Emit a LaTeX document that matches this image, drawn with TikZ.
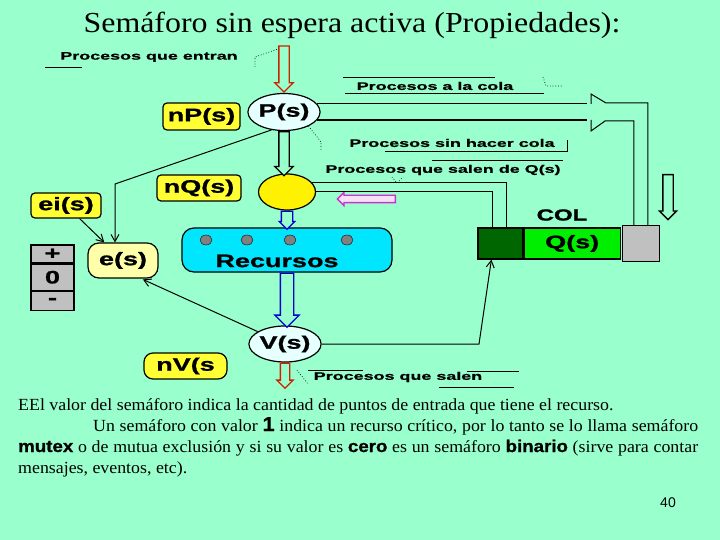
\documentclass[tikz,border=0pt]{standalone}
\usepackage{fontspec}
\setmainfont{Liberation Serif}
\newfontfamily\titlefont[FakeStretch=1.1]{Liberation Serif}
\newfontfamily\parfont[FakeStretch=1.05]{Liberation Serif}
\newfontfamily\parbold[FakeStretch=1.1,FakeBold=1]{Liberation Sans}
\newfontfamily\lblfont[FakeStretch=1.5,FakeBold=1.2]{Liberation Sans}
\newfontfamily\notefont[FakeStretch=1.63,FakeBold=0.8]{Liberation Sans}
\newfontfamily\numfont{Liberation Sans}
\usetikzlibrary{positioning,arrows.meta,shapes.geometric,shapes.arrows,calc}
\definecolor{slidebg}{HTML}{99FFCC}
\definecolor{tagyellow}{HTML}{FFFF33}
\definecolor{espale}{HTML}{FFFFAA}
\definecolor{circpale}{HTML}{E6FFFF}
\definecolor{reccyan}{HTML}{00E6FF}
\definecolor{coldark}{HTML}{006600}
\definecolor{colgreen}{HTML}{00EE00}
\definecolor{colgray}{HTML}{C0C0C0}
\definecolor{arrred}{HTML}{CC2200}
\definecolor{arrblue}{HTML}{0000CC}
\definecolor{arrmag}{HTML}{CC33CC}
\newcommand{\bigtxt}{\lblfont\bfseries\fontsize{18}{20}\selectfont}
\newcommand{\partxt}{\parfont\fontsize{17}{20}\selectfont}
\newcommand{\pb}[1]{{\parbold\bfseries #1}}
\tikzset{
  tag/.style={draw,line width=1.2pt,fill=tagyellow,rounded corners=4pt,font=\bigtxt,inner sep=0pt},
  circ/.style={ellipse,draw,line width=1.2pt,fill=circpale,inner sep=0pt,font=\bigtxt},
  cell/.style={draw,line width=1.2pt,fill=colgray,minimum width=43pt,inner sep=0pt,font=\bigtxt},
  colbox/.style={draw,line width=1.2pt,inner sep=0pt,minimum height=31pt},
  note/.style={font=\notefont\bfseries\fontsize{11}{13}\selectfont,inner sep=0pt},
  conn/.style={line width=1pt},
  thin/.style={line width=0.8pt},
  dots/.style={dotted,line width=0.7pt},
  arr/.style={conn,-{Straight Barb[length=7pt,width=8pt]}},
  hollow/.style n args={4}{single arrow,draw=#1,fill=#2,line width=1.3pt,inner sep=0pt,
    inner ysep=#3,single arrow head extend=#4,single arrow head indent=0pt},
}
\begin{document}
\begin{tikzpicture}[x=1pt,y=-1pt]
\fill[slidebg] (0,0) rectangle (720,540);
\useasboundingbox (0,0) rectangle (720,540);

\node[font=\titlefont\fontsize{29}{32}\selectfont] (title) at (352,25) {Semáforo sin espera activa (Propiedades):};

% semaforo
\node[circ,minimum width=60pt,minimum height=37pt] (Ps) at (284,112) {P(s)};
\node[circ,fill=yellow,minimum width=57pt,minimum height=36pt] (Qc) at (287,192) {};
\node[draw,line width=1.2pt,fill=reccyan,rounded corners=12pt,minimum width=210pt,minimum height=44pt] (rec) at (287,250) {};
\foreach \x in {206,247,290,347}
  \node[draw,fill=gray,ellipse,minimum width=12pt,minimum height=10pt,inner sep=0pt] (d\x) at (\x,240) {};
\node[font=\bigtxt] (rectxt) at (277,261) {Recursos};
\node[circ,minimum width=58pt,minimum height=36pt] (Vs) at (285,344) {V(s)};

\node[tag,minimum width=77pt,minimum height=27pt] (nP) at (201.5,116.5) {nP(s)};
\node[tag,minimum width=84pt,minimum height=26pt] (nQ) at (199,188) {nQ(s)};
\node[tag,minimum width=70pt,minimum height=25pt] (ei) at (66,205.5) {ei(s)};
\node[tag,minimum width=83pt,minimum height=26pt,rounded corners=9pt] (nV) at (185.5,366) {nV(s};
\node[tag,fill=espale,minimum width=70pt,minimum height=35pt,rounded corners=11pt] (es) at (123,260.5) {e(s)};

\node[cell,minimum height=18pt] (plus) at (52.5,254) {+};
\node[cell,minimum height=26pt,below=0pt of plus] (zero) {0};
\node[cell,minimum height=19pt,below=0pt of zero] (minus) {-};

% cola
\node[colbox,fill=coldark,minimum width=45pt] (dk) at (500.5,243.5) {};
\node[colbox,fill=colgreen,minimum width=96pt,right=0pt of dk,font=\bigtxt] (qs) {Q(s)};
\node[colbox,fill=colgray,minimum width=37pt,minimum height=36pt,right=1pt of qs] (gy) {};
\node[font=\lblfont\bfseries\fontsize{16}{18}\selectfont] (col) at (562,215) {COL};

% flechas huecas
\node[hollow={arrred}{slidebg}{4.5pt}{4pt},rotate=-90,minimum height=46pt,anchor=tip] (inarr) at (Ps.north) {};
\node[hollow={black}{slidebg}{4.5pt}{4pt},rotate=-90,minimum height=44pt,anchor=tail] (pqarr) at (Ps.south) {};
\node[hollow={arrblue}{slidebg}{5pt}{2pt},rotate=-90,minimum height=18pt,anchor=tail] (qrarr) at (Qc.south) {};
\node[hollow={arrblue}{slidebg}{6pt}{5.5pt},rotate=-90,minimum height=54pt,anchor=tail] (rvarr) at (rec.south) {};
\node[hollow={arrred}{slidebg}{4pt}{3.5pt},rotate=-90,minimum height=25pt,anchor=tail] (outarr) at (Vs.south) {};
\node[hollow={black}{slidebg}{4.5pt}{3.5pt},rotate=-90,minimum height=45pt,anchor=tail] (colarr) at (668,174) {};
\node[hollow={arrmag}{arrmag!15}{3pt}{3pt},rotate=180,minimum height=58pt,anchor=tail] (magarr) at (396,199) {};

% conexiones
\coordinate (mouth) at (587,112);
\coordinate (gyA) at ($(gy.north west)+(26,0)$);
\coordinate (gyB) at ($(gy.north west)+(12,0)$);
\draw[conn] (Ps.14) -- (Ps.14 -| mouth);
\draw[line width=1.6pt] (Ps.-14) -- (Ps.-14 -| mouth);
\draw[conn] (591,104) -- (591,94) -- (606,103) -- (gyA |- 0,103) -- (gyA);
\draw[conn] (591,120) -- (591,131) -- (605,121) -- (gyB |- 0,121) -- (gyB);

\coordinate (dkA) at ($(dk.north west)+(29,0)$);
\coordinate (dkB) at ($(dk.north west)+(15,0)$);
\draw[conn] (Qc.22) -- (Qc.22 -| dkA) -- (dkA);
\draw[conn] (Qc.east) -- (Qc.east -| dkB) -- (dkB);

\coordinate (vbend) at (479,344);
\draw[arr] (Vs.east) -- (vbend) -- ($(dk.south west)+(14,0)$);

\coordinate (pbend) at (115,184);
\draw[arr] (Ps.235) -- (pbend) -- (pbend |- es.north);
\draw[arr] (ei) -- (es);
\draw[arr,shorten >=2pt] (Vs) -- (es.-45);

% rotulos
\node[note] (tEntran) at (149,57) {Procesos que entran};
\draw[thin] (45,67) -- (82,67);
\draw[dots] (255,67) -- (255,57) -- (278,49);

\node[note] (tCola) at (435,86) {Procesos a la cola};
\draw[thin] (343,77) -- (495,77);
\draw[thin] (345,93) -- (544,93);
\draw[dots] (543,77) -- (546,86) -- (562,86);

\node[note] (tSin) at (452,143) {Procesos sin hacer cola};
\draw[thin] (385,151) -- (567,151) -- (567,140);
\draw[dots] (Ps.-30) -- (321,142) -- (321,150);

\node[note] (tSalQ) at (443,170) {Procesos que salen de Q(s)};
\draw[thin] (432,160) -- (563,160);
\draw[dots] (392,177) -- (397,183) -- (403,177);

\node[note] (tSalen) at (398,377) {Procesos que salen};
\draw[thin] (308,370) -- (363,370);
\draw[thin] (467,371) -- (519,371);
\draw[thin] (439,387) -- (514,387);
\draw[dots] (297,370) -- (308,384);

% texto
\node[anchor=base west,inner sep=0pt,font=\partxt] (l1) at (18,410)
  {EEl valor del semáforo indica la cantidad de puntos de entrada que tiene el recurso.};
\node[anchor=base west,inner sep=0pt,font=\partxt] (l2) at (93,431)
  {\makebox[605pt][s]{Un semáforo con valor \pb{\fontsize{20}{20}\selectfont 1} indica un recurso crítico, por lo tanto se lo llama semáforo}};
\node[anchor=base west,inner sep=0pt,font=\partxt] (l3) at (18,452)
  {\makebox[680pt][s]{\pb{mutex} o de mutua exclusión y si su valor es \pb{cero} es un semáforo \pb{binario} (sirve para contar}};
\node[anchor=base west,inner sep=0pt,font=\partxt] (l4) at (18,473)
  {mensajes, eventos, etc).};

\node[font=\numfont\fontsize{14}{16}\selectfont] (pnum) at (668,503) {40};
\end{tikzpicture}
\end{document}
